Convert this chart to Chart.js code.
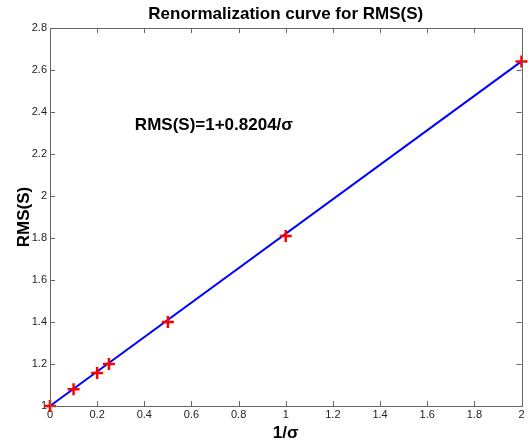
<!DOCTYPE html>
<html>
<head>
<meta charset="utf-8">
<script src="https://cdn.jsdelivr.net/npm/chart.js@4.4.0/dist/chart.umd.min.js"></script>
<style>
	html, body { margin: 0; padding: 0; background: #fff; }
	#wrap { width: 530px; height: 445px; }
</style>
</head>
<body>
<div id="wrap"><canvas id="chart" width="530" height="445"></canvas></div>
<script>
// 量測點 (1/sigma, RMS(S))
var invSigma = [0, 0.1, 0.2, 0.25, 0.5, 1, 2];
var rmsValues = [1, 1.08, 1.157, 1.2, 1.4, 1.81, 2.64];
// 擬合直線 RMS(S) = 1 + 0.8204/sigma
var fitX = [0, 2];
var fitY = [1, 2.6408];
var xTicks = [0, 0.2, 0.4, 0.6, 0.8, 1, 1.2, 1.4, 1.6, 1.8, 2];
var yTicks = [1, 1.2, 1.4, 1.6, 1.8, 2, 2.2, 2.4, 2.6, 2.8];

var fontFamily = 'Arial, "Liberation Sans", Helvetica, sans-serif';

function fmt(v){
	return String(Math.round(v * 10) / 10);
}

// 畫外框、內側刻度、標題與公式
var decor = {
	id: 'decor',
	afterDraw: function(c){
		var ctx = c.ctx;
		var a = c.chartArea;
		var xs = c.scales.x;
		var ys = c.scales.y;
		ctx.save();
		ctx.strokeStyle = '#666';
		ctx.lineWidth = 1;
		ctx.beginPath();
		xTicks.forEach(function(t){
			var px = Math.round(xs.getPixelForValue(t)) + 0.5;
			ctx.moveTo(px, a.bottom); ctx.lineTo(px, a.bottom - 5);
			ctx.moveTo(px, a.top); ctx.lineTo(px, a.top + 5);
		});
		yTicks.forEach(function(t){
			var py = Math.round(ys.getPixelForValue(t)) + 0.5;
			ctx.moveTo(a.left, py); ctx.lineTo(a.left + 5, py);
			ctx.moveTo(a.right, py); ctx.lineTo(a.right - 5, py);
		});
		ctx.stroke();
		ctx.strokeRect(Math.round(a.left) + 0.5, Math.round(a.top) + 0.5, Math.round(a.right - a.left), Math.round(a.bottom - a.top));

		ctx.fillStyle = '#000';
		ctx.textAlign = 'center';
		ctx.textBaseline = 'middle';
		ctx.font = 'bold 17px ' + fontFamily;
		ctx.fillText('Renormalization curve for RMS(S)', (a.left + a.right) / 2, 14);

		ctx.font = 'bold 17px ' + fontFamily;
		ctx.textAlign = 'left';
		ctx.fillText('RMS(S)=1+0.8204/\u03c3', xs.getPixelForValue(0.36), ys.getPixelForValue(2.338));
		ctx.restore();
	}
};

var pts = invSigma.map(function(x, i){ return {x: x, y: rmsValues[i]}; });
var fit = fitX.map(function(x, i){ return {x: x, y: fitY[i]}; });

new Chart(document.getElementById('chart'), {
	type: 'scatter',
	data: {
		datasets: [{
			data: pts,
			pointStyle: 'cross',
			pointRadius: 6,
			pointBorderWidth: 2.5,
			borderColor: '#ff0000',
			backgroundColor: '#ff0000',
			clip: false,
			order: 0,
		}, {
			data: fit,
			showLine: true,
			borderColor: '#0000ff',
			borderWidth: 2,
			pointRadius: 0,
			clip: false,
			order: 1,
		}]
	},
	options: {
		responsive: false,
		animation: false,
		layout: { padding: { top: 28, right: 4, left: 0, bottom: 0 } },
		plugins: {
			legend: { display: false },
			tooltip: { enabled: false },
			title: { display: false },
		},
		scales: {
			x: {
				type: 'linear',
				min: 0,
				max: 2,
				afterFit: function(s){ s.height = 39; },
				afterBuildTicks: function(s){ s.ticks = xTicks.map(function(v){ return {value: v}; }); },
				grid: { display: false, drawTicks: false },
				border: { display: false },
				ticks: { color: '#222', font: { family: fontFamily, size: 11 }, padding: 2, maxRotation: 0, autoSkip: false, callback: fmt },
				title: { display: true, text: '1/\u03c3', color: '#000', font: { family: fontFamily, size: 17, weight: 'bold' }, padding: { top: 0, bottom: 1 } },
			},
			y: {
				type: 'linear',
				min: 1,
				max: 2.8,
				afterFit: function(s){ s.width = 50; },
				afterBuildTicks: function(s){ s.ticks = yTicks.map(function(v){ return {value: v}; }); },
				grid: { display: false, drawTicks: false },
				border: { display: false },
				ticks: { color: '#222', font: { family: fontFamily, size: 11 }, padding: 3, autoSkip: false, callback: fmt },
				title: { display: true, text: 'RMS(S)', color: '#000', font: { family: fontFamily, size: 17, weight: 'bold' }, padding: { top: 14, bottom: 0 } },
			}
		}
	},
	plugins: [decor]
});
</script>
</body>
</html>
